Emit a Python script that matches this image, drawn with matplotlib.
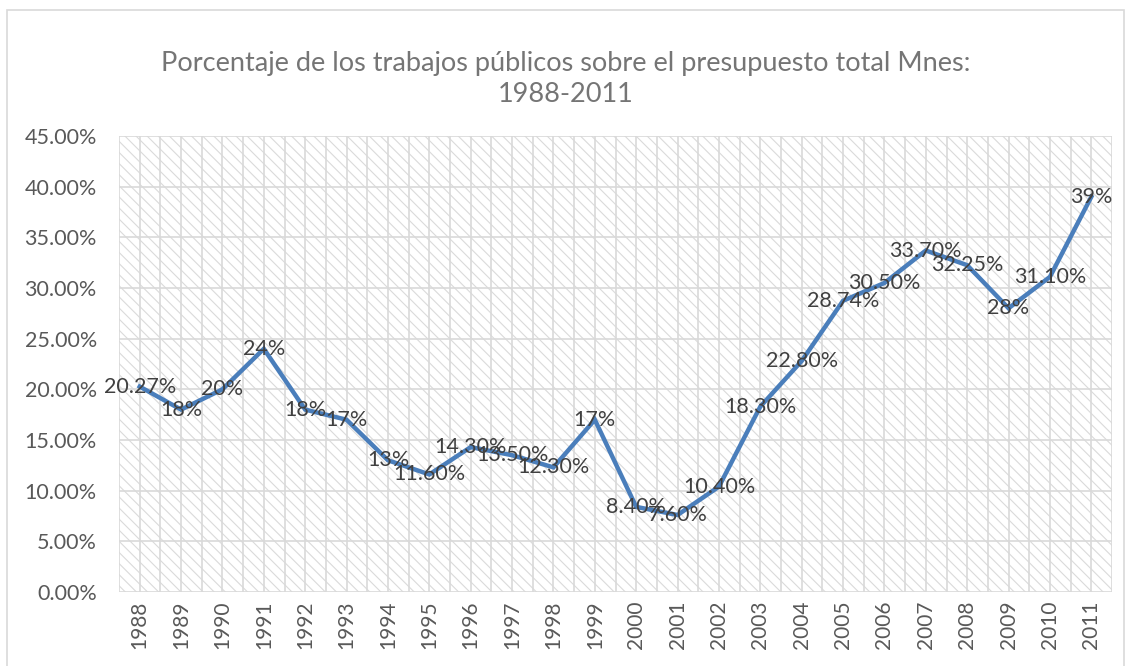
import matplotlib
matplotlib.use("Agg")
import matplotlib.pyplot as plt
from matplotlib.patches import Rectangle
from matplotlib.ticker import FuncFormatter, MultipleLocator

years = [str(y) for y in range(1988, 2012)]
values = [20.27, 18, 20, 24, 18, 17, 13, 11.6, 14.3, 13.5, 12.3, 17,
          8.4, 7.6, 10.4, 18.3, 22.8, 28.74, 30.5, 33.7, 32.25, 28, 31.1, 39]
labels = ["20.27%", "18%", "20%", "24%", "18%", "17%", "13%", "11.60%",
          "14.30%", "13.50%", "12.30%", "17%", "8.40%", "7.60%", "10.40%",
          "18.30%", "22.80%", "28.74%", "30.50%", "33.70%", "32.25%", "28%",
          "31.10%", "39%"]
title = "Porcentaje de los trabajos públicos sobre el presupuesto total Mnes:\n1988-2011"

plt.rcParams['font.family'] = ['Lato', 'DejaVu Sans']
plt.rcParams['hatch.linewidth'] = 0.8

fig = plt.figure(figsize=(11.31, 6.66), dpi=100)
# outer border
fig.patches.append(Rectangle((7/1131, -0.01), 1117/1131, 1 - 10/666 + 0.01,
                             transform=fig.transFigure, fill=False,
                             edgecolor='#d9d9d9', linewidth=1.2))

ax = fig.add_axes([119/1131, 1 - 592/666, 993/1131, 456/666])
x = list(range(len(years)))
ax.set_xlim(-0.5, len(years) - 0.5)
ax.set_ylim(0, 45)

# hatched background
ax.add_patch(Rectangle((0, 0), 1, 1, transform=ax.transAxes, facecolor='white',
                       hatch='\\\\\\', edgecolor='#dadada', linewidth=0, zorder=0))

# gridlines
for yv in range(0, 46, 5):
    ax.axhline(yv, color='#d9d9d9', linewidth=1.2, zorder=1)
for k in range(len(years) * 2 + 1):
    ax.axvline(-0.5 + 0.5 * k, color='#d9d9d9', linewidth=1.2, zorder=1)

ax.plot(x, values, color='#4a7ebb', linewidth=3.2, solid_joinstyle='miter', zorder=3)
for xi, v, lab in zip(x, values, labels):
    ax.text(xi, v, lab, ha='center', va='center', fontsize=15.5, color='#404040', zorder=4)

ax.set_xticks(x)
ax.set_xticklabels(years, rotation=90, fontsize=15, color='#595959')
ax.yaxis.set_major_locator(MultipleLocator(5))
ax.yaxis.set_major_formatter(FuncFormatter(lambda v, p: f"{v:.2f}%"))
ax.tick_params(axis='y', labelsize=15.5, labelcolor='#595959', length=0, pad=16)
ax.tick_params(axis='x', length=0, pad=6)
for s in ax.spines.values():
    s.set_visible(False)

fig.text(0.5, 1 - 79/666, title, ha='center', va='center', fontsize=19.5,
         color='#757575', linespacing=1.3)

fig.savefig("out.png", dpi=100)
